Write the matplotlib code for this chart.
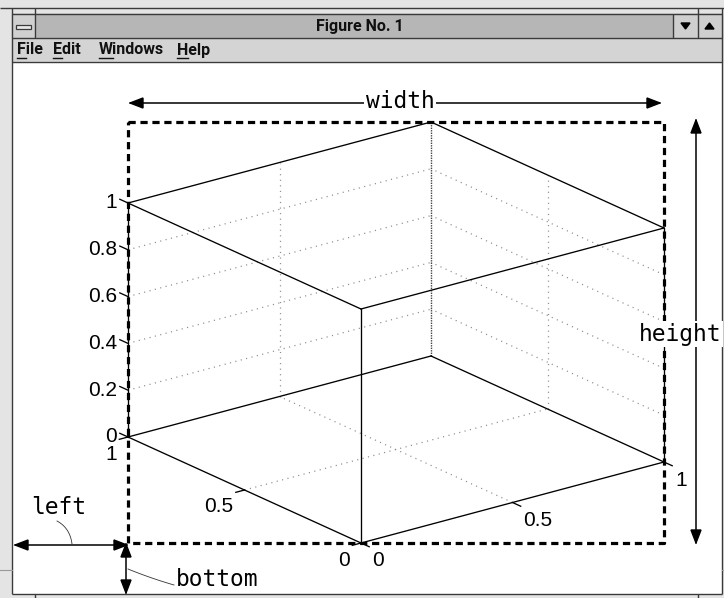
import matplotlib
matplotlib.use('Agg')
import matplotlib.pyplot as plt
import numpy as np
from matplotlib.patches import Rectangle, Polygon

plt.rcParams['lines.scale_dashes'] = False

# ---------------- data ----------------
z_ticks = [0, 0.2, 0.4, 0.6, 0.8, 1]
z_labels = ['0', '0.2', '0.4', '0.6', '0.8', '1']
x_ticks = [0, 0.5, 1]
x_labels = ['0', '0.5', '1']
y_ticks = [0, 0.5, 1]
y_labels = ['0', '0.5', '1']
grid_xy = [0.5]
grid_z = [0.2, 0.4, 0.6, 0.8]
window_title = 'Figure No. 1'
menu_items = ['File', 'Edit', 'Windows', 'Help']
position_names = ['left', 'bottom', 'width', 'height']

# ---------------- figure ----------------
W, H = 724, 598
fig = plt.figure(figsize=(W / 100, H / 100), dpi=100)
ax = fig.add_axes([0, 0, 1, 1])
ax.set_xlim(0, W)
ax.set_ylim(H, 0)
ax.axis('off')

# ---------------- window chrome ----------------
frame = '#3a3a3a'
ax.add_patch(Rectangle((0, 0), W, H, color='#e4e4e4', zorder=0))
ax.add_patch(Rectangle((12, 14), 710, 24, color='#b6b6b6', zorder=0.5))
ax.add_patch(Rectangle((12, 38), 710, 24, color='#d4d4d4', zorder=0.5))
ax.add_patch(Rectangle((12, 62), 710, 532, color='white', zorder=0.5))
ax.add_patch(Rectangle((12, 14), 23, 24, color='#d0d0d0', zorder=0.6))
ax.add_patch(Rectangle((673, 14), 24, 24, color='#cfcfcf', zorder=0.6))
ax.add_patch(Rectangle((698, 14), 24, 24, color='#cfcfcf', zorder=0.6))
kw = dict(color=frame, lw=1.0, zorder=1, solid_capstyle='butt')
ax.plot([0, W], [7.5, 7.5], **kw)
ax.plot([12, 722], [14, 14], **kw)
ax.plot([12, 722], [38, 38], **kw)
ax.plot([12, 722], [62, 62], **kw)
ax.plot([12, 722], [594, 594], **kw)
ax.plot([12, 12], [7.5, 594], **kw)
ax.plot([722, 722], [7.5, 594], **kw)
ax.plot([35, 35], [7.5, 38], **kw)
ax.plot([673, 673], [14, 38], **kw)
ax.plot([697.5, 697.5], [7.5, 38], **kw)
ax.plot([35, 35], [594, H], **kw)
ax.plot([698, 698], [594, H], **kw)
ax.plot([0, 12], [570, 570], color='#9a9a9a', lw=0.8)
ax.plot([722, W], [570, 570], color='#9a9a9a', lw=0.8)
# control-box icon
ax.add_patch(Rectangle((16, 24.5), 15, 4, facecolor='#e8e8e8', edgecolor=frame, lw=0.9, zorder=2))
# scroll arrows
ax.add_patch(Polygon([[681, 23], [690, 23], [685.5, 29]], closed=True, color='black', zorder=2))
ax.add_patch(Polygon([[705, 29], [714, 29], [709.5, 23]], closed=True, color='black', zorder=2))

title_font = ['Liberation Sans Narrow', 'Roboto']
ax.text(360, 26.5, window_title, ha='center', va='center', fontsize=11.5,
        family=title_font, fontweight='bold', color='#111111', zorder=3)

menu_x = [17, 53, 99, 177]
fig.canvas.draw()
renderer = fig.canvas.get_renderer()
for mx, item in zip(menu_x, menu_items):
    ax.text(mx, 50, item, ha='left', va='center', fontsize=11.5,
            family=title_font, fontweight='bold', color='#111111', zorder=3)
    f = ax.text(mx, 50, item[0], ha='left', va='center', fontsize=11.5,
                family=title_font, fontweight='bold', color='none', zorder=3)
    bb = f.get_window_extent(renderer)
    f.remove()
    ax.plot([bb.x0, bb.x1], [58, 58], color='#111111', lw=1.0, zorder=3)

# ---------------- 3-D box (orthographic projection) ----------------
ORIGIN = np.array([361.0, 543.0])
EX = np.array([303.0, -81.0])
EY = np.array([-233.0, -106.0])
EZ = np.array([0.0, -234.0])


def proj(x, y, z):
    return ORIGIN + x * EX + y * EY + z * EZ


def seg(p, q, **kw):
    a, b = proj(*p), proj(*q)
    ax.plot([a[0], b[0]], [a[1], b[1]], **kw)


grid_kw = dict(color='#8c8c8c', lw=0.9, linestyle=(0, (0.8, 3.2)), zorder=4)
for z in grid_z:
    seg((0, 1, z), (1, 1, z), **grid_kw)
    seg((1, 0, z), (1, 1, z), **grid_kw)
for g in grid_xy:
    seg((g, 1, 0), (g, 1, 1), **grid_kw)
    seg((1, g, 0), (1, g, 1), **grid_kw)
    seg((g, 0, 0), (g, 1, 0), **grid_kw)
    seg((0, g, 0), (1, g, 0), **grid_kw)
seg((1, 1, 0), (1, 1, 1), color='#444444', lw=1.0, linestyle=(0, (1.0, 0.8)), zorder=4)

edge_kw = dict(color='black', lw=0.95, zorder=5)
for z in (0, 1):
    seg((0, 0, z), (1, 0, z), **edge_kw)
    seg((0, 0, z), (0, 1, z), **edge_kw)
    seg((1, 0, z), (1, 1, z), **edge_kw)
    seg((0, 1, z), (1, 1, z), **edge_kw)
for (x, y) in [(0, 0), (1, 0), (0, 1)]:
    seg((x, y, 0), (x, y, 1), **edge_kw)

# ticks and tick labels
num_font = ['Liberation Sans', 'DejaVu Sans']
TL = 9.0
uy = EY / np.linalg.norm(EY)
ux = EX / np.linalg.norm(EX)
for z, lab in zip(z_ticks, z_labels):
    p = proj(0, 1, z)
    q = p + uy * TL
    ax.plot([p[0], q[0]], [p[1], q[1]], **edge_kw)
    ax.text(p[0] - 11, p[1], lab, ha='right', va='center', fontsize=15,
            family=num_font, zorder=6)
for y, lab in zip(y_ticks, y_labels):
    p = proj(0, y, 0)
    q = p - ux * TL
    ax.plot([p[0], q[0]], [p[1], q[1]], **edge_kw)
    ax.text(p[0] - 11, p[1] + 17, lab, ha='right', va='center', fontsize=15,
            family=num_font, zorder=6)
for x, lab in zip(x_ticks, x_labels):
    p = proj(x, 0, 0)
    q = p - uy * TL
    ax.plot([p[0], q[0]], [p[1], q[1]], **edge_kw)
    ax.text(p[0] + 11, p[1] + 18, lab, ha='left', va='center', fontsize=15,
            family=num_font, zorder=6)

# axes position rectangle (dashed)
corners = np.array([proj(x, y, z) for x in (0, 1) for y in (0, 1) for z in (0, 1)])
L, R = corners[:, 0].min(), corners[:, 0].max()
T, B = corners[:, 1].min(), corners[:, 1].max()
ax.plot([L, R, R, L, L], [T, T, B, B, T], color='black', lw=2.3,
        linestyle=(0, (5.2, 3.4)), zorder=7, dash_capstyle='butt')

# ---------------- annotation arrows ----------------
def arrow(p0, p1, hl=13.0, hw=5.0):
    p0, p1 = np.array(p0, float), np.array(p1, float)
    d = (p1 - p0) / np.linalg.norm(p1 - p0)
    n = np.array([-d[1], d[0]])
    ax.plot([p0[0], p1[0]], [p0[1], p1[1]], color='black', lw=1.1, zorder=8)
    for tip, dd in ((p0, d), (p1, -d)):
        base = tip + dd * hl
        ax.add_patch(Polygon([tip, base + n * hw, base - n * hw], closed=True,
                             color='black', zorder=8))


mono = ['DejaVu Sans Mono']
bbox = dict(facecolor='white', edgecolor='none', pad=1.0)
arrow((L + 2, T - 19), (R - 4, T - 19))
ax.text(400, T - 20, position_names[2], ha='center', va='center', fontsize=16.5,
        family=mono, bbox=bbox, zorder=9)
arrow((R + 32, T - 2), (R + 32, B))
ax.text(680, 334, position_names[3], ha='center', va='center', fontsize=16.5,
        family=mono, bbox=bbox, zorder=9)
arrow((15, B + 2), (L - 1, B + 2))
ax.text(59, 508, position_names[0], ha='center', va='center', fontsize=16.5,
        family=mono, zorder=9)
arrow((L - 2, B + 1), (L - 2, 593))
ax.text(217, 580, position_names[1], ha='center', va='center', fontsize=16.5,
        family=mono, zorder=9)

# leader lines
t = np.linspace(0, 1, 20)
lp = np.array([[57, 521], [70, 528], [72, 544]])
curve = ((1 - t)[:, None] ** 2) * lp[0] + (2 * (1 - t) * t)[:, None] * lp[1] + (t ** 2)[:, None] * lp[2]
ax.plot(curve[:, 0], curve[:, 1], color='#333333', lw=0.6, zorder=8)
bp = np.array([[128, 569], [150, 578], [174, 585]])
curve = ((1 - t)[:, None] ** 2) * bp[0] + (2 * (1 - t) * t)[:, None] * bp[1] + (t ** 2)[:, None] * bp[2]
ax.plot(curve[:, 0], curve[:, 1], color='#333333', lw=0.6, zorder=8)

fig.savefig('out.png', dpi=100, facecolor='white')
